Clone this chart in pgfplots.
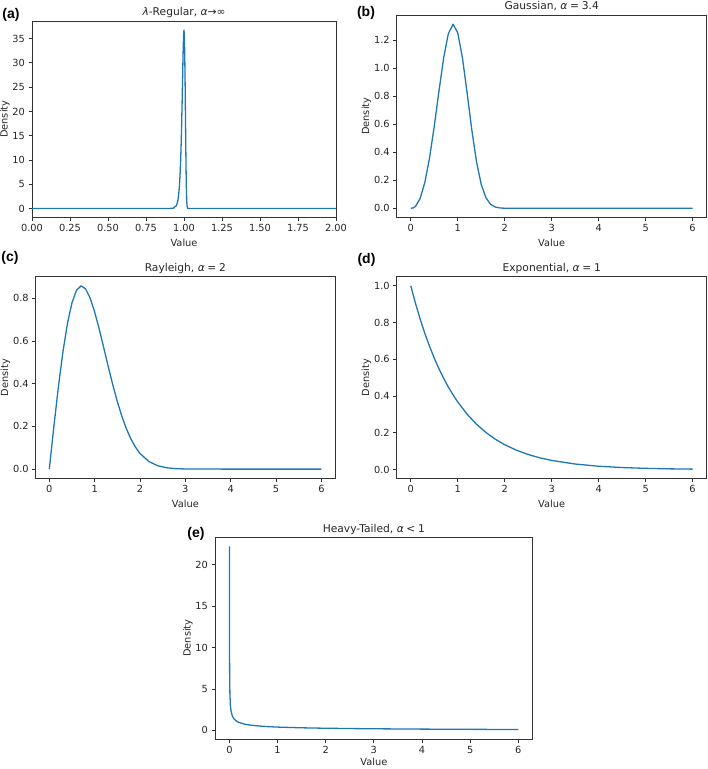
\documentclass[border=0pt]{standalone}
\usepackage{fontspec}
\setmainfont{DejaVu Sans}
\newfontfamily\labfont{Liberation Sans}
\usepackage{pgfplots}
\pgfplotsset{compat=1.18}
\definecolor{mplblue}{HTML}{1F77B4}
\pgfplotsset{
  every axis title shift=0pt,
  panel/.style={
    scale only axis,
    axis line style={black!80, line width=0.8pt},
    tick align=outside, tick pos=left,
    major tick length=3.5pt,
    every tick/.style={black!80, line width=0.8pt},
    /pgf/number format/assume math mode=true,
    tick label style={font=\fontsize{9.8}{11}\selectfont, text=black!85},
    label style={font=\fontsize{9.8}{11}\selectfont, text=black!85},
    xlabel={Value}, ylabel={Density},
    ylabel shift=-4pt,
    title style={at={(0.5,1)}, anchor=base, yshift=5pt, font=\fontsize{10.7}{12}\selectfont, text=black!85},
  },
  mpl/.style={color=mplblue, line width=1.3pt, mark=none, line join=round},
  yfix/.style={yticklabel style={/pgf/number format/.cd, fixed, fixed zerofill, precision=1}},
}
\begin{document}
\begin{tikzpicture}[x=1pt,y=1pt]
\path[use as bounding box] (0,0) rectangle (708,769);

% (a)
\begin{axis}[panel, at={(32pt,551.5pt)}, anchor=south west,
  width=304pt, height=196.5pt,
  xmin=0, xmax=2, ymin=-1.84, ymax=38.63,
  xtick={0,0.25,0.5,0.75,1,1.25,1.5,1.75,2},
  ytick={0,5,10,15,20,25,30,35},
  xticklabel style={/pgf/number format/.cd, fixed, fixed zerofill, precision=2},
  title={\textit{λ}-Regular, \textit{α}→∞}]
\addplot[mpl] coordinates {
(0,0) (0.5,0) (0.85,0) (0.9,0.003) (0.93,0.076) (0.95,0.620) (0.955,1.037)
(0.96,1.728) (0.965,2.858) (0.97,4.674) (0.975,7.533) (0.98,11.852)
(0.9825,14.676) (0.985,17.96) (0.9875,21.66) (0.99,25.64) (0.9925,29.63)
(0.995,33.22) (0.9975,35.83) (1.0,36.79) (1.0025,35.47) (1.005,31.58)
(1.0075,25.37) (1.01,17.915) (1.0125,10.718) (1.015,5.191) (1.0175,1.924)
(1.02,0.507) (1.025,0.0085) (1.03,0) (2.0,0)
};
\end{axis}

% (b)
\begin{axis}[panel, yfix, at={(396.7pt,551.5pt)}, anchor=south west,
  width=310pt, height=202.5pt,
  xmin=-0.3, xmax=6.3, ymin=-0.0656, ymax=1.3782,
  xtick={0,1,2,3,4,5,6},
  ytick={0,0.2,0.4,0.6,0.8,1.0,1.2},
  title={Gaussian, \textit{α}\hspace{0.25em}=\hspace{0.25em}3.4}]
\addplot[mpl] coordinates {
(0,0) (0.05,0.0026) (0.1,0.01353) (0.2,0.07114) (0.3,0.18594) (0.4,0.36074)
(0.5,0.58596) (0.6,0.83671) (0.7,1.07297) (0.8,1.24602) (0.9,1.31259)
(1.0,1.25079) (1.1,1.07227) (1.2,0.82082) (1.3,0.55624) (1.4,0.33028)
(1.5,0.16993) (1.6,0.07493) (1.7,0.02794) (1.8,0.00871) (1.9,0.00224)
(2.0,0.00047) (2.2,0) (3,0) (4,0) (5,0) (6,0)
};
\end{axis}

% (c)
\begin{axis}[panel, yfix, at={(35.7pt,290.7pt)}, anchor=south west,
  width=299.3pt, height=201.6pt,
  xmin=-0.3, xmax=6.3, ymin=-0.0429, ymax=0.9006,
  xtick={0,1,2,3,4,5,6},
  ytick={0,0.2,0.4,0.6,0.8},
  title={Rayleigh, \textit{α}\hspace{0.25em}=\hspace{0.25em}2}]
\addplot[mpl] coordinates {
(0,0) (0.1,0.19801) (0.2,0.38432) (0.3,0.54836) (0.4,0.68171) (0.5,0.77880)
(0.6,0.83722) (0.7,0.85768) (0.8,0.84366) (0.9,0.80074) (1.0,0.73576)
(1.1,0.65604) (1.2,0.56863) (1.3,0.47975) (1.4,0.39441) (1.5,0.31620)
(1.6,0.24738) (1.7,0.18896) (1.8,0.14099) (1.9,0.10280) (2.0,0.07326)
(2.2,0.03479) (2.4,0.01513) (2.6,0.00603) (2.8,0.00220) (3.0,0.00074)
(4,0) (5,0) (6,0)
};
\end{axis}

% (d)
\begin{axis}[panel, yfix, at={(396.7pt,290.7pt)}, anchor=south west,
  width=310pt, height=201.6pt,
  xmin=-0.3, xmax=6.3, ymin=-0.0474, ymax=1.0499,
  xtick={0,1,2,3,4,5,6},
  ytick={0,0.2,0.4,0.6,0.8,1.0},
  title={Exponential, \textit{α}\hspace{0.25em}=\hspace{0.25em}1}]
\addplot[mpl] coordinates {
(0,1) (0.1,0.904837) (0.2,0.818731) (0.3,0.740818) (0.4,0.670320)
(0.5,0.606531) (0.6,0.548812) (0.7,0.496585) (0.8,0.449329) (0.9,0.406570)
(1.0,0.367879) (1.2,0.301194) (1.4,0.246597) (1.6,0.201897) (1.8,0.165299)
(2.0,0.135335) (2.25,0.105399) (2.5,0.082085) (2.75,0.063928) (3.0,0.049787)
(3.5,0.030197) (4.0,0.018316) (4.5,0.011109) (5.0,0.006738) (5.5,0.004087)
(6.0,0.002479)
};
\end{axis}

% (e)
\begin{axis}[panel, at={(215pt,30pt)}, anchor=south west,
  width=317.7pt, height=201.7pt,
  xmin=-0.3, xmax=6.3, ymin=-1.05, ymax=23.31,
  xtick={0,1,2,3,4,5,6},
  ytick={0,5,10,15,20},
  xlabel style={yshift=2.5pt},
  title={Heavy-Tailed, \textit{α}\hspace{0.25em}<\hspace{0.25em}1}]
\addplot[mpl] coordinates {
(0.000375,22.2) (0.0005,19.23) (0.001,13.60) (0.002,9.615) (0.005,6.081)
(0.01,4.30) (0.02,3.034) (0.03,2.475) (0.05,1.913) (0.075,1.558)
(0.1,1.346) (0.15,1.094) (0.2,0.9425) (0.3,0.7619) (0.4,0.6532)
(0.6,0.5228) (0.8,0.4438) (1.0,0.3891) (1.5,0.3022) (2.0,0.2489)
(2.5,0.2118) (3.0,0.1839) (4.0,0.1441) (5.0,0.1166) (6.0,0.0963)
};
\end{axis}

% panel letters
\node[font=\labfont\bfseries\fontsize{14}{16}\selectfont] at (11,754) {(a)};
\node[font=\labfont\bfseries\fontsize{14}{16}\selectfont] at (366,756) {(b)};
\node[font=\labfont\bfseries\fontsize{14}{16}\selectfont] at (10,511) {(c)};
\node[font=\labfont\bfseries\fontsize{14}{16}\selectfont] at (366.5,509) {(d)};
\node[font=\labfont\bfseries\fontsize{14}{16}\selectfont] at (196,235.5) {(e)};
\end{tikzpicture}
\end{document}
